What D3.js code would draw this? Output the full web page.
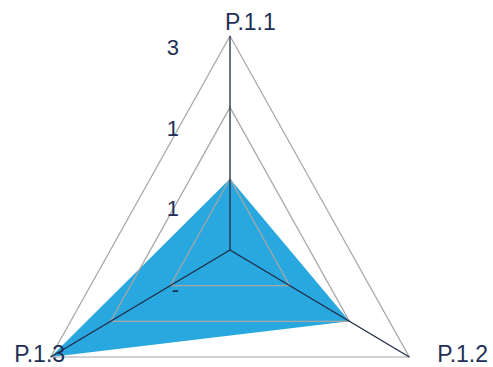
<!DOCTYPE html>
<html>
<head>
<meta charset="utf-8">
<script src="https://cdn.jsdelivr.net/npm/d3@7"></script>
<style>
  body { margin: 0; background: #fff; }
  svg { display: block; }
  text { font-family: "Liberation Sans", Arial, sans-serif; fill: #1f3056; }
</style>
</head>
<body>
<div id="chart"></div>
<script>
// data
var categories = ['P.1.1', 'P.1.2', 'P.1.3'];
var values = [1, 2, 3];
var levels = [1, 2, 3];
var tickLabels = ['-', '1', '1', '3'];

var width = 493, height = 367;
var cx = 230, cy = 250;
var rx = 207, ry = 214;

var svg = d3.select('#chart').append('svg')
    .attr('width', width)
    .attr('height', height);

var rScale = d3.scaleLinear().domain([0, 3]).range([0, 1]);
var angle = d3.scalePoint().domain(categories).range([0, 2 * Math.PI * 2 / 3]);

function px(cat, v) { return cx + rx * rScale(v) * Math.sin(angle(cat)); }
function py(cat, v) { return cy - ry * rScale(v) * Math.cos(angle(cat)); }

var polyLine = d3.line().x(d => d[0]).y(d => d[1]).curve(d3.curveLinearClosed);

// series fill
svg.append('path')
    .datum(categories.map((c, i) => [px(c, values[i]), py(c, values[i])]))
    .attr('fill', '#29a8df')
    .attr('stroke', 'none')
    .attr('d', polyLine);

// grid
svg.selectAll('path.grid').data(levels).enter().append('path')
    .attr('class', 'grid')
    .attr('fill', 'none')
    .attr('stroke', '#a6a6a6')
    .attr('stroke-width', 1.2)
    .attr('d', lv => polyLine(categories.map(c => [px(c, lv), py(c, lv)])));

// axes
svg.selectAll('line.axis').data(categories).enter().append('line')
    .attr('class', 'axis')
    .attr('stroke', '#1f2a44')
    .attr('stroke-width', 1.3)
    .attr('x1', cx).attr('y1', cy)
    .attr('x2', c => px(c, 3)).attr('y2', c => py(c, 3));

// tick labels
var tickY = d3.scalePoint().domain(d3.range(tickLabels.length)).range([297, 55]);
svg.selectAll('text.tick').data(tickLabels).enter().append('text')
    .attr('class', 'tick')
    .attr('x', 179)
    .attr('y', (d, i) => tickY(i))
    .attr('text-anchor', 'end')
    .attr('font-size', 22)
    .text(d => d);

// category labels
var labelPos = {
    'P.1.1': { dx: -5, dy: -6, anchor: 'start' },
    'P.1.2': { dx: 28, dy: 5, anchor: 'start' },
    'P.1.3': { dx: -11, dy: 5, anchor: 'middle' }
};
svg.selectAll('text.cat').data(categories).enter().append('text')
    .attr('class', 'cat')
    .attr('x', c => px(c, 3) + labelPos[c].dx)
    .attr('y', c => py(c, 3) + labelPos[c].dy)
    .attr('text-anchor', c => labelPos[c].anchor)
    .attr('font-size', 23)
    .text(c => c);
</script>
</body>
</html>
